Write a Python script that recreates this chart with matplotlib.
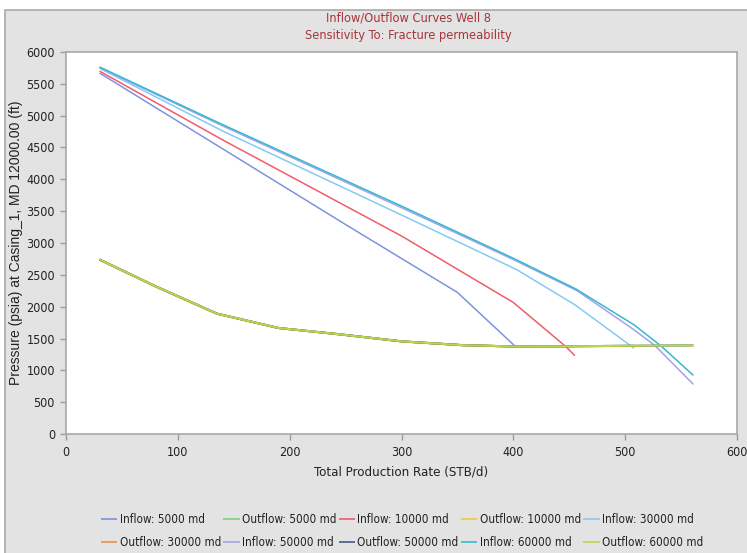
import matplotlib
matplotlib.use("Agg")
import matplotlib.pyplot as plt
from matplotlib.patches import Rectangle
from matplotlib.font_manager import FontProperties, fontManager

W, H = 747, 553

# ---------------- data ----------------
inflow_5000_q = [30, 140, 250, 350, 402]
inflow_5000_p = [5670, 4480, 3290, 2224, 1372]

inflow_10000_q = [30, 140, 300, 400, 447, 455]
inflow_10000_p = [5700, 4620, 3110, 2066, 1372, 1230]

inflow_30000_q = [30, 140, 300, 403, 455, 508]
inflow_30000_p = [5745, 4760, 3440, 2582, 2030, 1347]

inflow_50000_q = [30, 140, 300, 400, 457, 508, 527, 561]
inflow_50000_p = [5755, 4840, 3555, 2740, 2251, 1636, 1383, 779]

inflow_60000_q = [30, 140, 300, 400, 456, 508, 532, 561]
inflow_60000_p = [5765, 4860, 3580, 2760, 2277, 1714, 1383, 921]

outflow_5000_q = [30, 80, 135, 190, 245, 300, 355, 403]
outflow_5000_p = [2740, 2320, 1890, 1665, 1565, 1455, 1395, 1372]

outflow_10000_q = [30, 80, 135, 190, 245, 300, 355, 400, 455]
outflow_10000_p = [2740, 2320, 1890, 1665, 1565, 1455, 1395, 1375, 1378]

outflow_30000_q = [30, 80, 135, 190, 245, 300, 355, 400, 450, 508]
outflow_30000_p = [2740, 2320, 1890, 1665, 1565, 1455, 1395, 1375, 1378, 1385]

outflow_50000_q = [30, 80, 135, 190, 245, 300, 355, 400, 450, 500, 561]
outflow_50000_p = [2740, 2320, 1890, 1665, 1565, 1455, 1395, 1375, 1378, 1385, 1392]

outflow_60000_q = [30, 80, 135, 190, 245, 300, 355, 400, 450, 500, 561]
outflow_60000_p = [2740, 2320, 1890, 1665, 1565, 1455, 1395, 1375, 1378, 1385, 1392]

x_ticks = [0, 100, 200, 300, 400, 500, 600]
y_ticks = [0, 500, 1000, 1500, 2000, 2500, 3000, 3500, 4000, 4500, 5000, 5500, 6000]

series = [
    ("Inflow: 5000 md", inflow_5000_q, inflow_5000_p, "#7f92e2"),
    ("Outflow: 5000 md", outflow_5000_q, outflow_5000_p, "#7fd07f"),
    ("Inflow: 10000 md", inflow_10000_q, inflow_10000_p, "#f25b6b"),
    ("Outflow: 10000 md", outflow_10000_q, outflow_10000_p, "#f5c542"),
    ("Inflow: 30000 md", inflow_30000_q, inflow_30000_p, "#84caf2"),
    ("Outflow: 30000 md", outflow_30000_q, outflow_30000_p, "#f29043"),
    ("Inflow: 50000 md", inflow_50000_q, inflow_50000_p, "#a3a3ea"),
    ("Outflow: 50000 md", outflow_50000_q, outflow_50000_p, "#465a86"),
    ("Inflow: 60000 md", inflow_60000_q, inflow_60000_p, "#34b9ce"),
    ("Outflow: 60000 md", outflow_60000_q, outflow_60000_p, "#b5d84c"),
]

names = {f.name for f in fontManager.ttflist}
if "Liberation Sans Narrow" in names:
    NARROW = dict(family="Liberation Sans Narrow", stretch="normal")
else:
    NARROW = dict(family="DejaVu Sans", stretch="condensed")


def fp(size, base=NARROW):
    return FontProperties(family=base["family"], stretch=base["stretch"], size=size)


REGF = FontProperties(family="Liberation Sans", size=10)

fig = plt.figure(figsize=(W / 100, H / 100), dpi=100, facecolor="white")
fig.patches.append(Rectangle((5 / W, -0.01), 1.0, 1 - 10 / H + 0.01,
                             transform=fig.transFigure, facecolor="#e3e3e3",
                             edgecolor="#a9a9a9", linewidth=1.2, zorder=-10))

ax = fig.add_axes([66 / W, 1 - 434 / H, (737 - 66) / W, (434 - 52) / H], zorder=1)
ax.set_facecolor("white")

handles = []
for label, q, p, c in series:
    lw = 1.5 if label.startswith("Outflow") else 1.1
    (ln,) = ax.plot(q, p, color=c, lw=lw, label=label, solid_capstyle="butt")
    handles.append(ln)

ax.set_xlim(0, 600)
ax.set_ylim(0, 6000)
ax.set_xticks(x_ticks)
ax.set_yticks(y_ticks)
ax.set_xticklabels([str(v) for v in x_ticks], fontproperties=fp(9), color="#222222")
ax.set_yticklabels([str(v) for v in y_ticks], fontproperties=fp(9), color="#222222")
ax.tick_params(direction="out", length=4, color="#9a9a9a", width=1)
ax.tick_params(axis="x", pad=5)
ax.tick_params(axis="y", pad=4)
for s in ax.spines.values():
    s.set_color("#a8a8a8")
    s.set_linewidth(1.2)

ax.set_xlabel("Total Production Rate (STB/d)", fontproperties=fp(9.5), color="#222222", labelpad=4)
ax.set_ylabel("Pressure (psia) at Casing_1, MD 12000.00 (ft)", fontproperties=REGF,
              color="#222222", labelpad=2)

fig.text(408 / W, 1 - 18 / H, "Inflow/Outflow Curves Well 8", ha="center", va="center",
         fontproperties=fp(9.2), color="#a8353a")
fig.text(408 / W, 1 - 35 / H, "Sensitivity To: Fracture permeability", ha="center", va="center",
         fontproperties=fp(9.2), color="#a8353a")

order = [0, 5, 1, 6, 2, 7, 3, 8, 4, 9]
leg = fig.legend([handles[i] for i in order], [series[i][0] for i in order],
                 loc="center", bbox_to_anchor=(402 / W, 1 - 531 / H), ncol=5,
                 frameon=False, prop=fp(8.4),
                 handlelength=1.4, handletextpad=0.2, columnspacing=0.2,
                 labelspacing=0.85)
for t in leg.get_texts():
    t.set_color("#222222")
for h in leg.legend_handles:
    h.set_linewidth(1.2)

fig.savefig("out.png", dpi=100, facecolor="white")
